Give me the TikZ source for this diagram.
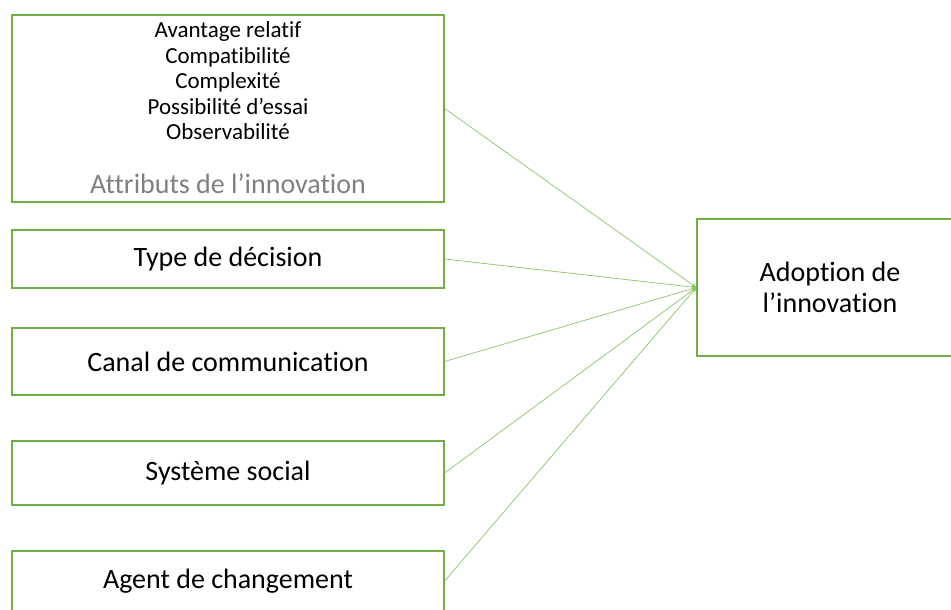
\documentclass[tikz,border=0pt]{standalone}
\usepackage{fontspec}
\setmainfont[Ligatures={NoCommon}]{Carlito}
\usetikzlibrary{arrows.meta}
\definecolor{boxgreen}{HTML}{70AD47}
\definecolor{linegreen}{HTML}{8CC46A}
\definecolor{labelgray}{HTML}{808080}
\begin{document}
\begin{tikzpicture}[x=1pt,y=-1pt,
  box/.style={draw=boxgreen, line width=1.2pt, minimum width=432pt, inner sep=0pt, font=\fontsize{28}{33}\selectfont},
  conn/.style={draw=linegreen, line width=0.7pt, -{Stealth[length=5pt,width=4pt]}}]
\useasboundingbox (0,0) rectangle (951,610);
\clip (0,0) rectangle (951,610);
\node[box, minimum height=187pt] (attr) at (228,108.5) {};
\node[inner sep=0pt, align=center, font=\fontsize{23}{25.5}\selectfont] (attrlist) at (228,81) {Avantage relatif\\Compatibilité\\Complexité\\Possibilité d’essai\\Observabilité};
\node[inner sep=0pt, text=labelgray, font=\fontsize{28}{33}\selectfont] (attrlabel) at (228,184) {Attributs de l’innovation};
\node[box, minimum height=58pt] (type) at (228,259) {Type de décision};
\node[box, minimum height=67pt] (canal) at (228,361.5) {Canal de communication};
\node[box, minimum height=64pt] (sys) at (228,473) {Système social};
\node[box, minimum height=60pt] (agent) at (228,581) {Agent de changement};
\node[box, minimum width=266pt, minimum height=137pt, align=center, font=\fontsize{28}{31}\selectfont] (adopt) at (830,287.5) {Adoption de\\l’innovation};
\draw[conn] (attr.east) -- (adopt.west);
\draw[conn] (type.east) -- (adopt.west);
\draw[conn] (canal.east) -- (adopt.west);
\draw[conn] (sys.east) -- (adopt.west);
\draw[conn] (agent.east) -- (adopt.west);
\end{tikzpicture}
\end{document}
